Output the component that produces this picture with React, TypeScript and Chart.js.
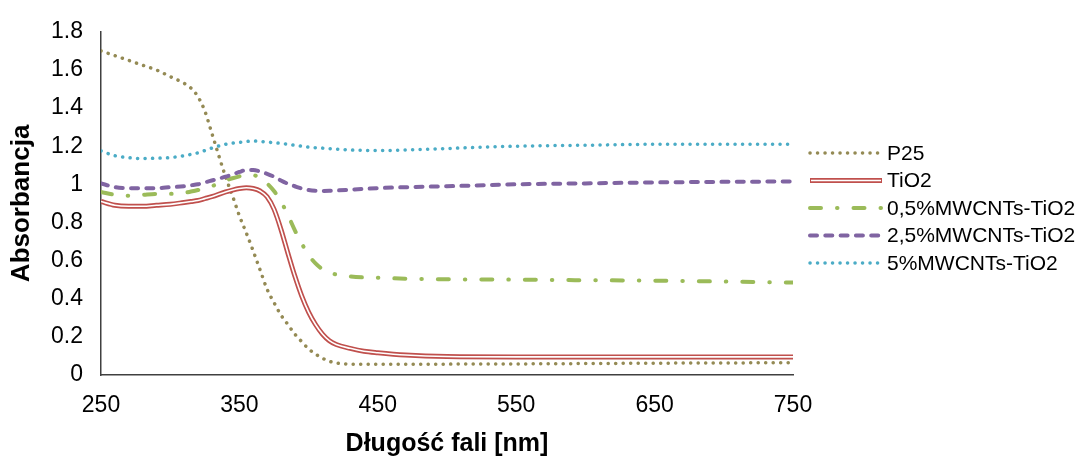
import React, { useEffect, useRef } from 'react';
import { Chart, registerables } from 'chart.js';

Chart.register(...registerables);

// ---- Data ----
const wavelengths = [250, 260, 270, 280, 290, 300, 310, 315, 320, 325, 330, 340, 345, 350, 355, 360, 365, 370, 375, 380, 385, 390, 395, 400, 405, 410, 415, 420, 430, 440, 450, 470, 500, 550, 600, 650, 700, 750];

const p25 = [1.70, 1.675, 1.65, 1.625, 1.60, 1.565, 1.53, 1.505, 1.46, 1.385, 1.27, 1.04, 0.94, 0.835, 0.745, 0.65, 0.55, 0.45, 0.38, 0.315, 0.265, 0.215, 0.175, 0.137, 0.11, 0.088, 0.072, 0.063, 0.057, 0.056, 0.056, 0.056, 0.057, 0.058, 0.06, 0.062, 0.063, 0.065];

const tio2 = [0.91, 0.89, 0.885, 0.885, 0.89, 0.895, 0.905, 0.91, 0.915, 0.925, 0.935, 0.96, 0.97, 0.978, 0.982, 0.978, 0.965, 0.935, 0.87, 0.765, 0.64, 0.52, 0.415, 0.33, 0.265, 0.215, 0.18, 0.16, 0.14, 0.125, 0.117, 0.105, 0.097, 0.095, 0.095, 0.095, 0.095, 0.095];

const mw05 = [0.96, 0.945, 0.94, 0.945, 0.95, 0.95, 0.955, 0.962, 0.97, 0.98, 0.99, 1.02, 1.032, 1.042, 1.05, 1.048, 1.035, 1.005, 0.965, 0.91, 0.84, 0.76, 0.69, 0.63, 0.585, 0.555, 0.537, 0.527, 0.517, 0.512, 0.51, 0.505, 0.502, 0.5, 0.497, 0.495, 0.49, 0.485];

const mw25 = [1.005, 0.985, 0.98, 0.98, 0.98, 0.985, 0.99, 0.995, 1.0, 1.01, 1.02, 1.04, 1.052, 1.065, 1.075, 1.075, 1.067, 1.055, 1.04, 1.02, 1.003, 0.99, 0.978, 0.97, 0.966, 0.965, 0.966, 0.968, 0.972, 0.976, 0.98, 0.985, 0.99, 1.0, 1.005, 1.01, 1.013, 1.015];

const mw5 = [1.175, 1.15, 1.14, 1.135, 1.137, 1.14, 1.15, 1.157, 1.165, 1.177, 1.19, 1.21, 1.216, 1.22, 1.225, 1.227, 1.225, 1.222, 1.218, 1.215, 1.21, 1.205, 1.2, 1.195, 1.192, 1.19, 1.187, 1.185, 1.18, 1.178, 1.177, 1.18, 1.188, 1.2, 1.205, 1.21, 1.21, 1.21];

const seriesNames = ['P25', 'TiO2', '0,5%MWCNTs-TiO2', '2,5%MWCNTs-TiO2', '5%MWCNTs-TiO2'];
const xTickLabels = ['250', '350', '450', '550', '650', '750'];
const yTickLabels = ['0', '0.2', '0.4', '0.6', '0.8', '1', '1.2', '1.4', '1.6', '1.8'];
const xTitle = 'Długość fali [nm]';
const yTitle = 'Absorbancja';

const FONT = "Arial, 'Liberation Sans', sans-serif";

const COL_P25 = '#948A54';
const COL_TIO2 = '#C0504D';
const COL_05 = '#9BBB59';
const COL_25 = '#8064A2';
const COL_5 = '#4BACC6';

type LineStyle = { color: string; width: number; dash: number[]; cap: CanvasLineCap; inner?: { color: string; width: number } };

const styles: LineStyle[] = [
  { color: COL_P25, width: 3.5, dash: [0.1, 7.4], cap: 'round' },
  { color: COL_TIO2, width: 5, dash: [], cap: 'butt', inner: { color: '#FFFFFF', width: 1.6 } },
  { color: COL_05, width: 4, dash: [11, 16, 0.5, 16], cap: 'round' },
  { color: COL_25, width: 4, dash: [7, 8.3], cap: 'round' },
  { color: COL_5, width: 3.5, dash: [0.1, 7.4], cap: 'round' },
];

const seriesValues = [p25, tio2, mw05, mw25, mw5];

function toPoints(vals: number[]) {
  return wavelengths.map((x, i) => ({ x, y: vals[i] }));
}

const legendPlugin = {
  id: 'customLegend',
  afterDraw(chart: any) {
    const ctx: CanvasRenderingContext2D = chart.ctx;
    const area = chart.chartArea;
    const x0 = area.right + 17;
    const x1 = x0 + 72;
    const tx = x1 + 5;
    const yStart = 153;
    const gap = 27.5;
    ctx.save();
    styles.forEach((s, i) => {
      const y = yStart + i * gap;
      ctx.beginPath();
      ctx.setLineDash(s.dash);
      ctx.lineCap = s.cap;
      ctx.lineWidth = s.width;
      ctx.strokeStyle = s.color;
      ctx.moveTo(x0, y);
      ctx.lineTo(x1, y);
      ctx.stroke();
      if (s.inner) {
        ctx.beginPath();
        ctx.setLineDash([]);
        ctx.lineWidth = s.inner.width;
        ctx.strokeStyle = s.inner.color;
        ctx.moveTo(x0 + 1, y);
        ctx.lineTo(x1 - 1, y);
        ctx.stroke();
      }
      ctx.setLineDash([]);
      ctx.fillStyle = '#000000';
      ctx.font = `21px ${FONT}`;
      ctx.textBaseline = 'middle';
      ctx.textAlign = 'left';
      ctx.fillText(seriesNames[i], tx, y + 1);
    });
    ctx.restore();
  },
};

export default function App() {
  const canvasRef = useRef<HTMLCanvasElement | null>(null);

  useEffect(() => {
    const canvas = canvasRef.current;
    if (!canvas) return;

    const datasets: any[] = [];
    const orders = [10, 9, 7, 6, 5];
    styles.forEach((s, i) => {
      datasets.push({
        label: seriesNames[i],
        data: toPoints(seriesValues[i]),
        borderColor: s.color,
        borderWidth: s.width,
        borderDash: s.dash,
        borderCapStyle: s.cap,
        borderJoinStyle: 'round',
        pointRadius: 0,
        fill: false,
        cubicInterpolationMode: 'monotone',
        order: orders[i],
      });
      if (s.inner) {
        datasets.push({
          label: seriesNames[i] + '_inner',
          data: toPoints(seriesValues[i]),
          borderColor: s.inner.color,
          borderWidth: s.inner.width,
          pointRadius: 0,
          fill: false,
          cubicInterpolationMode: 'monotone',
          order: orders[i] - 0.5,
        });
      }
    });

    const chart = new Chart(canvas, {
      type: 'line',
      data: { datasets },
      options: {
        responsive: false,
        animation: false,
        layout: { padding: { left: 0, top: 29, right: 291, bottom: 0 } },
        plugins: {
          legend: { display: false },
          tooltip: { enabled: false },
        },
        scales: {
          x: {
            type: 'linear',
            min: 250,
            max: 750,
            grid: { display: false, drawTicks: false },
            border: { display: true, color: '#404040', width: 1.5 },
            ticks: {
              stepSize: 100,
              padding: 17,
              color: '#000000',
              font: { family: FONT, size: 23 },
              callback: (v: any) => xTickLabels[Math.round((Number(v) - 250) / 100)] ?? '',
              maxRotation: 0,
            },
            title: {
              display: true,
              text: xTitle,
              color: '#000000',
              font: { family: FONT, size: 25, weight: 'bold', lineHeight: 1.0 },
              padding: { top: 0, bottom: 2 },
            },
            afterFit: (scale: any) => {
              scale.height = 84;
            },
          },
          y: {
            type: 'linear',
            min: 0,
            max: 1.8,
            grid: { display: false, drawTicks: false },
            border: { display: true, color: '#404040', width: 1.5 },
            ticks: {
              stepSize: 0.2,
              padding: 18,
              color: '#000000',
              font: { family: FONT, size: 23 },
              callback: (v: any) => yTickLabels[Math.round(Number(v) / 0.2)] ?? '',
            },
            title: {
              display: true,
              text: yTitle,
              color: '#000000',
              font: { family: FONT, size: 26, weight: 'bold', lineHeight: 1.0 },
              padding: { top: 9, bottom: 0 },
            },
            afterFit: (scale: any) => {
              scale.width = 101;
            },
          },
        },
      },
      plugins: [legendPlugin],
    });

    return () => {
      chart.destroy();
    };
  }, []);

  return (
    <div style={{ position: 'fixed', left: 0, top: 0, width: 1084, height: 459, background: '#ffffff' }}>
      <canvas ref={canvasRef} width={1084} height={459} style={{ display: 'block' }} />
    </div>
  );
}
